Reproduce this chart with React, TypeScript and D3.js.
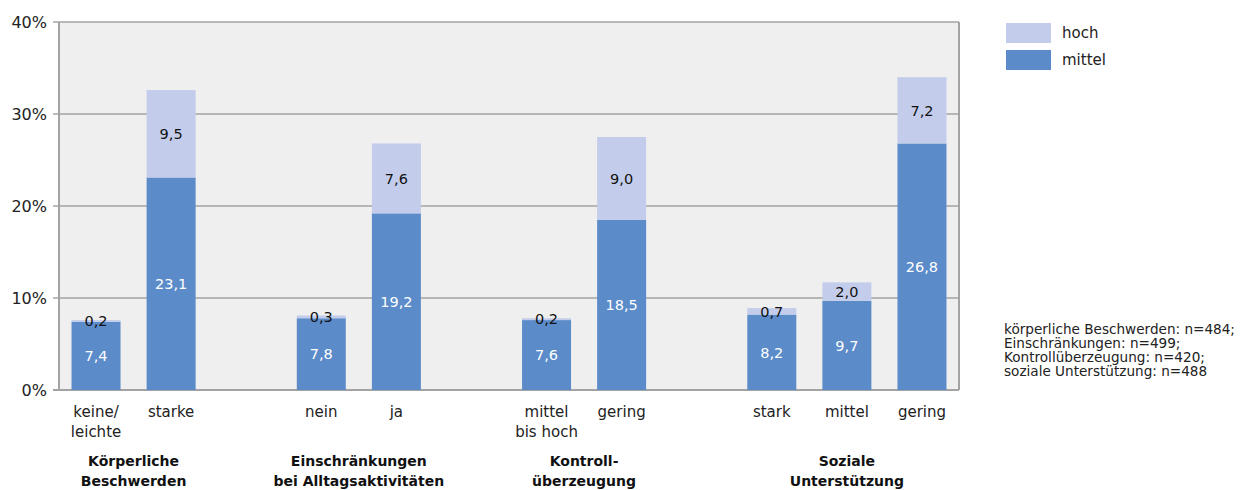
import React from 'react';
import * as d3 from 'd3';

// slot keys: g* are the gaps between groups
const slots = ['k0', 'k1', 'g1', 'e0', 'e1', 'g2', 'c0', 'c1', 'g3', 's0', 's1', 's2'];
const barKeys = ['k0', 'k1', 'e0', 'e1', 'c0', 'c1', 's0', 's1', 's2'];
const barLabels = [['keine/', 'leichte'], ['starke'], ['nein'], ['ja'], ['mittel', 'bis hoch'], ['gering'], ['stark'], ['mittel'], ['gering']];
const mittel = [7.4, 23.1, 7.8, 19.2, 7.6, 18.5, 8.2, 9.7, 26.8];
const hoch = [0.2, 9.5, 0.3, 7.6, 0.2, 9.0, 0.7, 2.0, 7.2];
const groups = [
  { lines: ['Körperliche', 'Beschwerden'], from: 'k0', to: 'k1' },
  { lines: ['Einschränkungen', 'bei Alltagsaktivitäten'], from: 'e0', to: 'e1' },
  { lines: ['Kontroll-', 'überzeugung'], from: 'c0', to: 'c1' },
  { lines: ['Soziale', 'Unterstützung'], from: 's0', to: 's2' },
];
const yTicks = [0, 10, 20, 30, 40];
const legendItems = [{ name: 'hoch', color: '#c3cdeb' }, { name: 'mittel', color: '#5b8bc9' }];
const notes = ['körperliche Beschwerden: n=484;', 'Einschränkungen: n=499;', 'Kontrollüberzeugung: n=420;', 'soziale Unterstützung: n=488'];

const W = 1244, H = 490;
const left = 59, right = 959, top = 22, bottom = 390;
const font = '"DejaVu Sans", sans-serif';

export default function App() {
  const x = d3.scaleBand<string>().domain(slots).range([left, right]).paddingInner(0.3475).paddingOuter(0.167);
  const y = d3.scaleLinear().domain([0, 40]).range([bottom, top]);
  const fmt = (v: number) => v.toFixed(1).replace('.', ',');

  return (
    <svg width={W} height={H} style={{ position: 'absolute', left: 0, top: 0 }} fontFamily={font}>
      <rect x={left} y={top} width={right - left} height={bottom - top} fill="#efefef" />
      {yTicks.map(t => (
        <g key={t}>
          <line x1={left - 6} x2={right} y1={y(t)} y2={y(t)} stroke="#a3a3a3" strokeWidth={t === 0 ? 2 : 1.5} />
          <text x={left - 12} y={y(t)} dy="0.36em" textAnchor="end" fontSize={16} fill="#222">{t}%</text>
        </g>
      ))}
      <line x1={left} x2={left} y1={top} y2={bottom} stroke="#a3a3a3" strokeWidth={2} />
      <line x1={right} x2={right} y1={top} y2={bottom} stroke="#a3a3a3" strokeWidth={2} />
      {barKeys.map((k, i) => {
        const bx = x(k)!;
        const bw = x.bandwidth();
        const yM = y(mittel[i]);
        const yH = y(mittel[i] + hoch[i]);
        const cx = bx + bw / 2;
        return (
          <g key={k}>
            <rect x={bx} y={yM} width={bw} height={bottom - yM} fill="#5b8bc9" />
            <rect x={bx} y={yH} width={bw} height={yM - yH} fill="#c3cdeb" />
            <text x={cx} y={(bottom + yM) / 2} dy="0.36em" textAnchor="middle" fontSize={14.5} fill="#fff">{fmt(mittel[i])}</text>
            <text x={cx} y={(yM + yH) / 2} dy="0.36em" textAnchor="middle" fontSize={14.5} fill="#111">{fmt(hoch[i])}</text>
            {barLabels[i].map((l, j) => (
              <text key={j} x={cx} y={417 + j * 20} textAnchor="middle" fontSize={15} fill="#222">{l}</text>
            ))}
          </g>
        );
      })}
      {groups.map((g, i) => {
        const cx = (x(g.from)! + x(g.to)! + x.bandwidth()) / 2;
        return g.lines.map((l, j) => (
          <text key={`${i}-${j}`} x={cx} y={466 + j * 20} textAnchor="middle" fontSize={14} fontWeight="bold" fill="#111">{l}</text>
        ));
      })}
      {legendItems.map((it, i) => (
        <g key={it.name}>
          <rect x={1006} y={23 + i * 27} width={45} height={20} fill={it.color} />
          <text x={1062} y={33 + i * 27} dy="0.36em" fontSize={15} fill="#222">{it.name}</text>
        </g>
      ))}
      {notes.map((n, i) => (
        <text key={i} x={1004} y={334 + i * 14} fontSize={13.6} fill="#222">{n}</text>
      ))}
    </svg>
  );
}
